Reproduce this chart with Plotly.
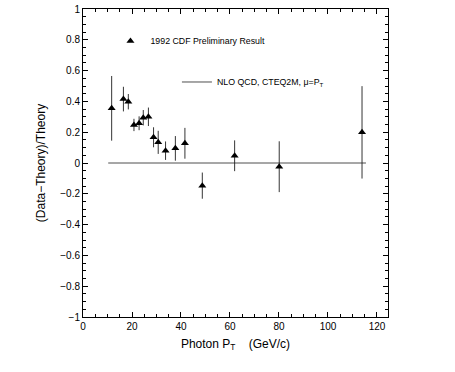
import plotly.graph_objects as go

# photon pT (GeV/c), (data-theory)/theory and its error
pt = [11.7, 16.5, 18.5, 20.8, 22.9, 24.6, 26.7, 28.8, 30.7, 33.7, 37.7, 41.6, 48.7, 61.9, 80.1, 113.9]
ratio = [0.355, 0.415, 0.398, 0.247, 0.258, 0.294, 0.300, 0.167, 0.134, 0.080, 0.095, 0.128, -0.147, 0.047, -0.024, 0.199]
err = [0.21, 0.08, 0.05, 0.04, 0.045, 0.05, 0.06, 0.065, 0.075, 0.06, 0.08, 0.10, 0.085, 0.10, 0.165, 0.30]

theory_x = [10.3, 115.5]
theory_y = [0.0, 0.0]

FONT = "Liberation Sans, Arial, sans-serif"

fig = go.Figure()
fig.add_scatter(
    x=pt, y=ratio, mode="markers", name="1992 CDF Preliminary Result",
    marker=dict(symbol="triangle-up", size=7, color="black"),
    error_y=dict(type="data", array=err, color="black", thickness=0.8, width=0),
    legend="legend", showlegend=True,
)
fig.add_scatter(
    x=theory_x, y=theory_y, mode="lines", name="NLO QCD, CTEQ2M, \u03bc=P<sub>T</sub>",
    line=dict(color="#222", width=0.8),
    legend="legend2", showlegend=True,
)

axis_common = dict(
    showgrid=False, zeroline=False, showline=True, linecolor="black", linewidth=1,
    mirror="allticks", ticks="inside", ticklen=5, tickcolor="black",
    tickfont=dict(family=FONT, size=10, color="black"),
    minor=dict(ticks="inside", ticklen=3, tickcolor="black"),
    automargin=False,
)
fig.update_xaxes(
    range=[0, 124.5], tickvals=[0, 20, 40, 60, 80, 100, 120],
    minor_dtick=5,
    title=dict(text="Photon P<sub>T</sub>    (GeV/c)", font=dict(family=FONT, size=12, color="black"), standoff=8),
    **axis_common,
)
fig.update_yaxes(
    range=[-1, 1], dtick=0.2, tickformat="~g",
    minor_dtick=0.05,
    title=dict(text="(Data\u2212Theory)/Theory", font=dict(family=FONT, size=12, color="black"), standoff=12),
    **axis_common,
)
fig.update_layout(
    width=455, height=372,
    margin=dict(l=83, r=67, t=9, b=55, autoexpand=False),
    plot_bgcolor="white", paper_bgcolor="white",
    showlegend=True,
    legend=dict(x=0.09, y=0.896, xanchor="left", yanchor="middle",
                font=dict(family=FONT, size=8.8, color="black"), bgcolor="rgba(0,0,0,0)"),
    legend2=dict(x=0.308, y=0.763, xanchor="left", yanchor="middle",
                 font=dict(family=FONT, size=8.8, color="black"), bgcolor="rgba(0,0,0,0)"),
)

fig.write_html(
    "out.html",
    config={"displayModeBar": False},
    post_script="document.body.style.margin='0';",
)
